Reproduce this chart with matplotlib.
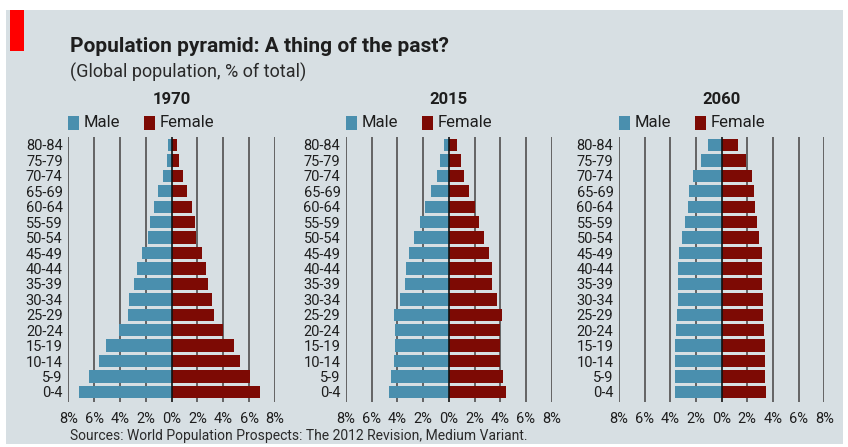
import matplotlib
matplotlib.use("Agg")
import matplotlib.pyplot as plt
from matplotlib.patches import Rectangle
import numpy as np

plt.rcParams['font.family'] = ['Liberation Sans Narrow', 'Roboto', 'DejaVu Sans']

age_groups = ["0-4", "5-9", "10-14", "15-19", "20-24", "25-29", "30-34", "35-39",
              "40-44", "45-49", "50-54", "55-59", "60-64", "65-69", "70-74", "75-79", "80-84"]

years = ["1970", "2015", "2060"]

# values listed from 0-4 up to 80-84 (% of total population)
male_1970 = [7.2, 6.37, 5.63, 5.11, 4.05, 3.38, 3.28, 2.92, 2.71, 2.27, 1.81, 1.68, 1.34, 1.03, 0.65, 0.39, 0.28]
female_1970 = [6.81, 6.04, 5.29, 4.8, 3.95, 3.25, 3.12, 2.84, 2.63, 2.32, 1.91, 1.81, 1.55, 1.21, 0.88, 0.54, 0.41]

male_2015 = [4.69, 4.48, 4.25, 4.15, 4.22, 4.25, 3.83, 3.42, 3.32, 3.08, 2.72, 2.28, 1.89, 1.37, 0.96, 0.67, 0.39]
female_2015 = [4.43, 4.22, 3.99, 3.94, 3.99, 4.12, 3.76, 3.39, 3.32, 3.11, 2.77, 2.38, 2.05, 1.55, 1.17, 0.91, 0.6]

male_2060 = [3.61, 3.61, 3.61, 3.61, 3.56, 3.51, 3.43, 3.4, 3.38, 3.3, 3.09, 2.86, 2.65, 2.52, 2.23, 1.64, 1.09]
female_2060 = [3.43, 3.38, 3.38, 3.38, 3.3, 3.25, 3.22, 3.17, 3.14, 3.12, 2.91, 2.73, 2.57, 2.52, 2.36, 1.87, 1.3]

x_ticks = [-8, -6, -4, -2, 0, 2, 4, 6, 8]
x_ticklabels = ["8%", "6%", "4%", "2%", "0%", "2%", "4%", "6%", "8%"]

title = "Population pyramid: A thing of the past?"
subtitle = "(Global population, % of total)"
source = "Sources: World Population Prospects: The 2012 Revision, Medium Variant."

male_color = "#4a8fae"
female_color = "#7d0a04"
bg_color = "#d7dfe3"
grid_color = "#5a5a5a"
text_color = "#1e1e1e"

W, H = 848, 447
fig = plt.figure(figsize=(W / 100, H / 100), dpi=100)
fig.patch.set_facecolor("white")

def fx(px):
    return px / W

def fy(py):
    return 1 - py / H

# background panel
fig.patches.append(Rectangle((fx(6), fy(444)), fx(837), (434) / H, transform=fig.transFigure,
                             facecolor=bg_color, edgecolor="none", zorder=-10))
# red tag
fig.patches.append(Rectangle((fx(10), fy(51)), fx(14), 41 / H, transform=fig.transFigure,
                             facecolor="#ff0000", edgecolor="none", zorder=-5))

fig.text(fx(70), fy(46), title, fontsize=15, fontweight="bold", color=text_color, va="center", ha="left")
fig.text(fx(70), fy(72), subtitle, fontsize=13, color="#2a2a2a", va="center", ha="left")
fig.text(fx(70), fy(436), source, fontsize=10, color="#2a2a2a", va="center", ha="left")

panels = [
    (years[0], male_1970, female_1970, 68.3, 275.0),
    (years[1], male_2015, female_2015, 346.0, 551.7),
    (years[2], male_2060, female_2060, 619.0, 824.3),
]

y_top_px, y_bot_px = 136.5, 402.0
ypos = np.arange(len(age_groups))

for yr, male, female, x0, x1 in panels:
    ax = fig.add_axes([fx(x0), fy(y_bot_px), (x1 - x0) / W, (y_bot_px - y_top_px) / H])
    ax.set_facecolor("none")
    for g in x_ticks:
        if g != 0:
            ax.axvline(g, color=grid_color, lw=1.3, zorder=1)
    ax.barh(ypos, [-m for m in male], height=0.8, color=male_color, zorder=2)
    ax.barh(ypos, female, height=0.8, color=female_color, zorder=2)
    ax.axvline(0, color="#111111", lw=1.2, zorder=3)
    ax.set_xlim(-8, 8)
    ax.set_ylim(-0.65, 16.55)
    ax.set_yticks(ypos)
    ax.set_yticklabels(age_groups, fontsize=10.5, color=text_color)
    ax.set_xticks(x_ticks)
    ax.set_xticklabels(x_ticklabels, fontsize=10.5, color=text_color)
    ax.tick_params(length=0, pad=4)
    ax.tick_params(axis="x", pad=7)
    for s in ax.spines.values():
        s.set_visible(False)

    cx = (x0 + x1) / 2
    fig.text(fx(cx), fy(100), yr, fontsize=12, fontweight="bold", color=text_color, ha="center", va="center")
    # legend
    lx = x0 - 0.5
    fig.patches.append(Rectangle((fx(lx), fy(130)), fx(11), 14 / H, transform=fig.transFigure,
                                 facecolor=male_color, edgecolor="none"))
    fig.text(fx(lx + 16), fy(123), "Male", fontsize=12, color=text_color, ha="left", va="center")
    fig.patches.append(Rectangle((fx(lx + 76), fy(130)), fx(11), 14 / H, transform=fig.transFigure,
                                 facecolor=female_color, edgecolor="none"))
    fig.text(fx(lx + 92), fy(123), "Female", fontsize=12, color=text_color, ha="left", va="center")

fig.savefig("out.png", dpi=100, facecolor=fig.get_facecolor())
